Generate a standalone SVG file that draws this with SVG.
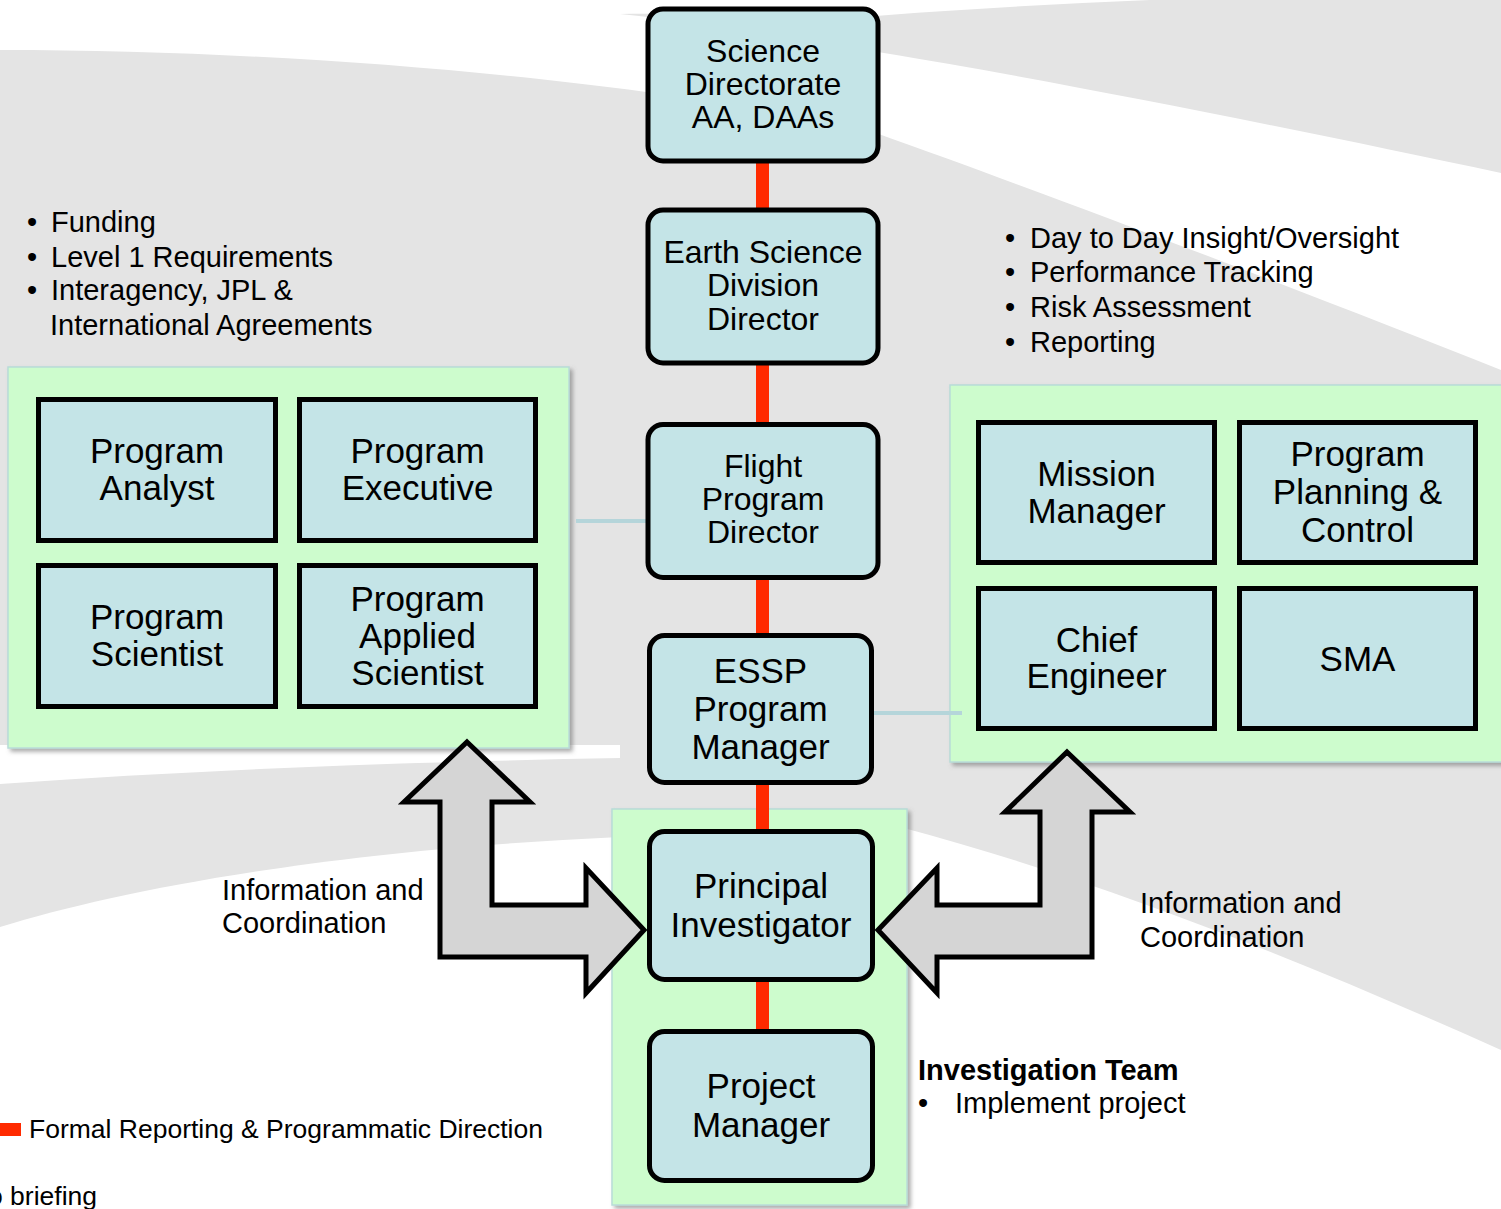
<svg xmlns="http://www.w3.org/2000/svg" width="1501" height="1209" viewBox="0 0 1501 1209">
<defs>
<style>
.bgw{fill:#ffffff}
.grp{fill:#cdfccd;stroke:#b8dcd8;stroke-width:1.5;filter:url(#sh)}
.rn{fill:#c4e4e7;stroke:#000;stroke-width:5}
.sn{fill:#c4e4e7;stroke:#000;stroke-width:5}
text{font-family:"Liberation Sans",Arial,Helvetica,sans-serif;fill:#000}
.c31{font-size:32px;text-anchor:middle}
.c34{font-size:35px;text-anchor:middle}
.b28{font-size:29px}
.l26{font-size:26.5px}
.bold{font-weight:bold}
.red{stroke:#ff2a00;stroke-width:13;fill:none}
.blue{stroke:#b5d5da;stroke-width:4;fill:none}
.arr{fill:#d5d5d5;stroke:#000;stroke-width:5;stroke-linejoin:miter}
</style>
<filter id="sh" x="-5%" y="-5%" width="110%" height="110%">
<feDropShadow dx="3" dy="3" stdDeviation="2" flood-color="#666" flood-opacity="0.55"/>
</filter>
</defs>

<g id="background">
<rect x="0" y="0" width="1501" height="1209" fill="#e4e4e4"/>
<path class="bgw" d="M0,0 H1501 V370 C1300,290 1050,195 876,133 C700,90 350,50 0,50 Z"/>
<path fill="#e4e4e4" d="M620,14 C700,12 800,16 860,17 C950,10 1050,4 1150,0 H1501 V173 C1300,130 1050,80 884,53 C800,38 700,22 620,14 Z"/>
<path class="bgw" d="M0,745 H620 V758 C400,762 200,770 0,784 Z"/>
<path class="bgw" d="M0,927 C120,890 330,850 620,837 L900,827 C1100,880 1300,960 1501,1050 V1209 H0 Z"/>
</g>

<g id="group-left">
<rect class="grp" x="8" y="367" width="561" height="381"/>
</g>
<g id="group-right">
<rect class="grp" x="950" y="385" width="560" height="377"/>
</g>
<g id="group-investigation">
<rect class="grp" x="612" y="809" width="295" height="396"/>
</g>

<g id="connectors">
<line class="red" x1="762.5" y1="160" x2="762.5" y2="1034"/>
<line class="blue" x1="576" y1="521" x2="650" y2="521"/>
<line class="blue" x1="870" y1="713" x2="962" y2="713"/>
</g>

<g id="arrow-left">
<path class="arr" d="M467,742 L530,802 L492,802 L492,905 L586,905 L586,868 L644,930 L586,993 L586,957 L440,957 L440,802 L404,802 Z"/>
</g>
<g id="arrow-right">
<path class="arr" d="M1067,752 L1130,812 L1092,812 L1092,957 L937,957 L937,993 L878,930 L937,868 L937,905 L1040,905 L1040,812 L1005,812 Z"/>
</g>

<g id="node-science-directorate">
<rect class="rn" x="648" y="9" width="230" height="152" rx="15"/>
<text class="c31" x="763" y="62">Science</text>
<text class="c31" x="763" y="95">Directorate</text>
<text class="c31" x="763" y="128">AA, DAAs</text>
</g>
<g id="node-earth-science">
<rect class="rn" x="648" y="210" width="230" height="153" rx="15"/>
<text class="c31" x="763" y="263">Earth Science</text>
<text class="c31" x="763" y="296">Division</text>
<text class="c31" x="763" y="330">Director</text>
</g>
<g id="node-flight-program">
<rect class="rn" x="648" y="424.5" width="230" height="153" rx="15"/>
<text class="c31" x="763" y="477">Flight</text>
<text class="c31" x="763" y="510">Program</text>
<text class="c31" x="763" y="543">Director</text>
</g>
<g id="node-essp">
<rect class="rn" x="649.5" y="635.5" width="222" height="147" rx="15"/>
<text class="c34" x="760.5" y="683">ESSP</text>
<text class="c34" x="760.5" y="721">Program</text>
<text class="c34" x="760.5" y="759">Manager</text>
</g>
<g id="node-pi">
<rect class="rn" x="649.5" y="831.5" width="223" height="148" rx="15"/>
<text class="c34" x="761" y="898">Principal</text>
<text class="c34" x="761" y="937">Investigator</text>
</g>
<g id="node-pm">
<rect class="rn" x="649.5" y="1031.5" width="223" height="149" rx="15"/>
<text class="c34" x="761" y="1098">Project</text>
<text class="c34" x="761" y="1137">Manager</text>
</g>

<g id="node-program-analyst">
<rect class="sn" x="38.5" y="399.5" width="237" height="141"/>
<text class="c34" x="157" y="463">Program</text>
<text class="c34" x="157" y="500">Analyst</text>
</g>
<g id="node-program-executive">
<rect class="sn" x="299.5" y="399.5" width="236" height="141"/>
<text class="c34" x="417.5" y="463">Program</text>
<text class="c34" x="417.5" y="500">Executive</text>
</g>
<g id="node-program-scientist">
<rect class="sn" x="38.5" y="565.5" width="237" height="141"/>
<text class="c34" x="157" y="629">Program</text>
<text class="c34" x="157" y="666">Scientist</text>
</g>
<g id="node-program-applied-scientist">
<rect class="sn" x="299.5" y="565.5" width="236" height="141"/>
<text class="c34" x="417.5" y="611">Program</text>
<text class="c34" x="417.5" y="648">Applied</text>
<text class="c34" x="417.5" y="685">Scientist</text>
</g>

<g id="node-mission-manager">
<rect class="sn" x="978.5" y="422.5" width="236" height="140"/>
<text class="c34" x="1096.5" y="486">Mission</text>
<text class="c34" x="1096.5" y="523">Manager</text>
</g>
<g id="node-ppc">
<rect class="sn" x="1239.5" y="422.5" width="236" height="140"/>
<text class="c34" x="1357.5" y="466">Program</text>
<text class="c34" x="1357.5" y="504">Planning &amp;</text>
<text class="c34" x="1357.5" y="542">Control</text>
</g>
<g id="node-chief-engineer">
<rect class="sn" x="978.5" y="588.5" width="236" height="140"/>
<text class="c34" x="1096.5" y="652">Chief</text>
<text class="c34" x="1096.5" y="688">Engineer</text>
</g>
<g id="node-sma">
<rect class="sn" x="1239.5" y="588.5" width="236" height="140"/>
<text class="c34" x="1357.5" y="671">SMA</text>
</g>

<g id="notes-left">
<text class="b28" x="27" y="232">•</text><text class="b28" x="51" y="232">Funding</text>
<text class="b28" x="27" y="267">•</text><text class="b28" x="51" y="267">Level 1 Requirements</text>
<text class="b28" x="27" y="300">•</text><text class="b28" x="51" y="300">Interagency, JPL &amp;</text>
<text class="b28" x="50" y="335">International Agreements</text>
</g>
<g id="notes-right">
<text class="b28" x="1005" y="248">•</text><text class="b28" x="1030" y="248">Day to Day Insight/Oversight</text>
<text class="b28" x="1005" y="282">•</text><text class="b28" x="1030" y="282">Performance Tracking</text>
<text class="b28" x="1005" y="317">•</text><text class="b28" x="1030" y="317">Risk Assessment</text>
<text class="b28" x="1005" y="352">•</text><text class="b28" x="1030" y="352">Reporting</text>
</g>
<g id="label-info-left">
<text class="b28" x="222" y="900">Information and</text>
<text class="b28" x="222" y="933">Coordination</text>
</g>
<g id="label-info-right">
<text class="b28" x="1140" y="913">Information and</text>
<text class="b28" x="1140" y="947">Coordination</text>
</g>
<g id="label-investigation-team">
<text class="b28 bold" x="918" y="1080">Investigation Team</text>
<text class="b28" x="918" y="1113">•</text>
<text class="b28" x="955" y="1113">Implement project</text>
</g>
<g id="legend">
<rect x="0" y="1123" width="21" height="13" fill="#ff2a00"/>
<text class="l26" x="29" y="1138">Formal Reporting &amp; Programmatic Direction</text>
<text class="l26" x="-12" y="1205">o briefing</text>
</g>
</svg>
